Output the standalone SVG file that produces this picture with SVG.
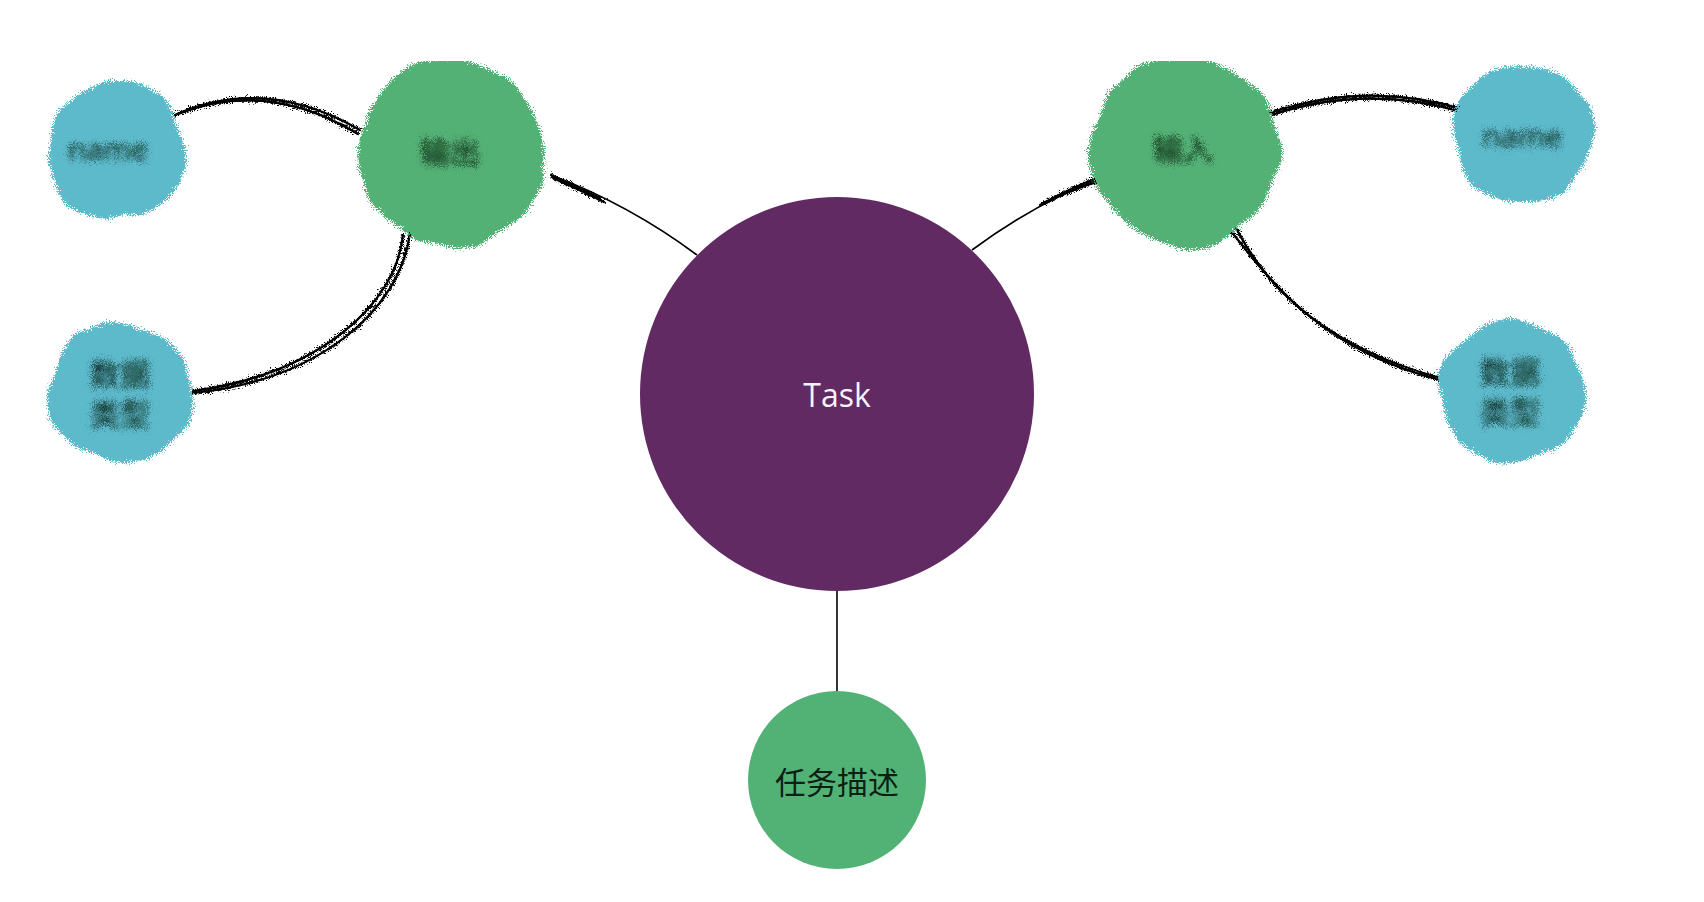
<svg xmlns="http://www.w3.org/2000/svg" width="1704" height="902" viewBox="0 0 1704 902">
  <defs>
    <style>
      .edge { fill: none; stroke: #000; stroke-width: 1.6; }
      .sk { fill: none; stroke: #000; stroke-width: 2.2; stroke-linecap: round; }
      .green { fill: #52b175; }
      .blue { fill: #5bbacb; }
      .purple { fill: #612a63; }
      .lbl { font-family: "Open Sans", "Noto Sans", "Noto Sans CJK SC", sans-serif; font-size: 32px; text-anchor: middle; dominant-baseline: central; }
      .cjk { font-family: "Noto Sans CJK SC", "Noto Sans", sans-serif; font-size: 30px; text-anchor: middle; dominant-baseline: central; fill: #0d1f14; }
      .smudge { fill: #06120e; }
    </style>
    <filter id="rough" x="-25%" y="-25%" width="150%" height="150%" filterUnits="objectBoundingBox">
      <feTurbulence type="fractalNoise" baseFrequency="0.018" numOctaves="2" seed="4" result="low"/>
      <feDisplacementMap in="SourceGraphic" in2="low" scale="16" xChannelSelector="R" yChannelSelector="G" result="wob"/>
      <feTurbulence type="fractalNoise" baseFrequency="0.95" numOctaves="1" seed="7" result="hi"/>
      <feDisplacementMap in="wob" in2="hi" scale="14" xChannelSelector="R" yChannelSelector="G"/>
    </filter>
    <filter id="roughLine" x="-10%" y="-20%" width="120%" height="140%">
      <feTurbulence type="fractalNoise" baseFrequency="0.95" numOctaves="1" seed="11" result="hi"/>
      <feDisplacementMap in="SourceGraphic" in2="hi" scale="12" xChannelSelector="R" yChannelSelector="G" result="d"/>
      <feMerge><feMergeNode in="d"/><feMergeNode in="SourceGraphic"/></feMerge>
    </filter>
    <filter id="blot" x="-30%" y="-60%" width="160%" height="220%">
      <feGaussianBlur in="SourceGraphic" stdDeviation="2" result="b"/>
      <feTurbulence type="fractalNoise" baseFrequency="1.1" numOctaves="1" seed="3" result="hi"/>
      <feDisplacementMap in="b" in2="hi" scale="20" xChannelSelector="R" yChannelSelector="G"/>
    </filter>
    <clipPath id="frame">
      <rect x="46" y="61" width="1552" height="841"/>
    </clipPath>
  </defs>

  <rect width="1704" height="902" fill="#ffffff"/>

  <g id="connectors">
    <path class="edge" d="M697,255 Q630,205 551,175"/>
    <path class="edge" d="M972,250 Q1040,200 1105,177"/>
    <line class="edge" x1="837" y1="590" x2="837" y2="692"/>
    <g clip-path="url(#frame)" filter="url(#roughLine)">
      <path class="sk" d="M600,198 Q575,186 551,175"/>
      <path class="sk" d="M604,202 Q578,189 553,178"/>
      <path class="sk" d="M1040,205 Q1070,188 1102,176"/>
      <path class="sk" d="M1045,203 Q1072,189 1104,180"/>
      <path class="sk" d="M175,115 Q265,75 360,130"/>
      <path class="sk" d="M178,114 Q267,79 358,134"/>
      <path class="sk" d="M410,233 C400,310 320,380 193,393"/>
      <path class="sk" d="M403,235 C396,305 318,374 193,391"/>
      <path class="sk" d="M1270,113 Q1368,80 1465,110"/>
      <path class="sk" d="M1272,115 Q1366,84 1462,112"/>
      <path class="sk" d="M1230,230 C1270,280 1320,350 1440,380"/>
      <path class="sk" d="M1236,228 C1268,290 1326,346 1440,378"/>
    </g>
  </g>

  <g id="node-task">
    <circle class="purple" cx="837" cy="394" r="197"/>
    <text class="lbl" x="837" y="394" fill="#f6f2f6">Task</text>
  </g>

  <g id="node-desc">
    <circle class="green" cx="837" cy="780" r="89"/>
    <text class="cjk" x="837" y="780" style="font-size:31px" fill="#111">任务描述</text>
  </g>

  <g clip-path="url(#frame)">
    <g id="node-left" filter="url(#rough)">
      <circle class="green" cx="452" cy="152" r="93"/>
    </g>
    <g id="node-right" filter="url(#rough)">
      <circle class="green" cx="1185" cy="152" r="95"/>
    </g>
    <g id="node-left-name" filter="url(#rough)">
      <circle class="blue" cx="116" cy="150" r="69"/>
    </g>
    <g id="node-left-type" filter="url(#rough)">
      <circle class="blue" cx="120" cy="394" r="70"/>
    </g>
    <g id="node-right-name" filter="url(#rough)">
      <circle class="blue" cx="1522" cy="133" r="70"/>
    </g>
    <g id="node-right-type" filter="url(#rough)">
      <circle class="blue" cx="1511" cy="392" r="72"/>
    </g>
  </g>

  <g id="labels-sketch" filter="url(#blot)">
    <text class="cjk smudge" x="450" y="150">输出</text>
    <text class="cjk smudge" x="1183" y="147">输入</text>
    <text class="lbl smudge" x="108" y="148" style="font-size:30px">name</text>
    <text class="lbl smudge" x="1522" y="135" style="font-size:30px">name</text>
    <text class="cjk smudge" x="120" y="372">数据</text>
    <text class="cjk smudge" x="120" y="412">类型</text>
    <text class="cjk smudge" x="1510" y="370">数据</text>
    <text class="cjk smudge" x="1510" y="410">类型</text>
  </g>
</svg>
